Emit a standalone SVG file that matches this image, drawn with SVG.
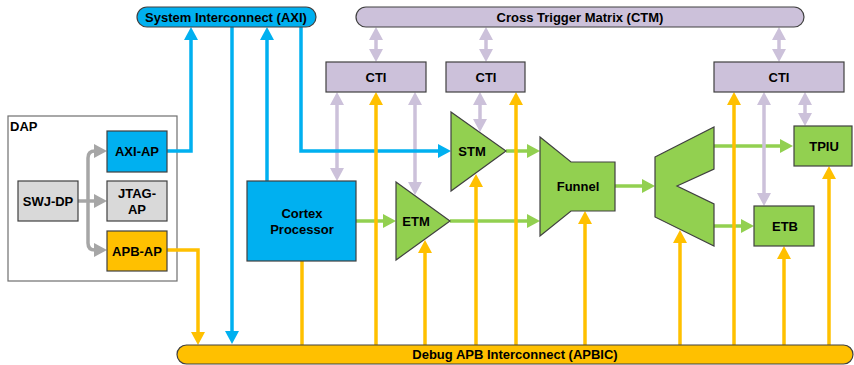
<svg xmlns="http://www.w3.org/2000/svg" width="854" height="365" viewBox="0 0 854 365">
<defs>
<style>
text{font-family:"Liberation Sans",Arial,sans-serif;font-weight:bold;font-size:13px;fill:#000;text-anchor:middle}
.n{stroke:#404040;stroke-width:1.2}
.blue{fill:#00b0f0}.yel{fill:#ffc000}.grn{fill:#92d050}.lav{fill:#ccc1da}.gry{fill:#d9d9d9}
.c{fill:none;stroke-width:3.5}
.cb{stroke:#00b0f0}.cy{stroke:#ffc000}.cg{stroke:#92d050}.cl{stroke:#ccc1da}.cgr{stroke:#a6a6a6}
</style>
<marker id="ab" markerUnits="userSpaceOnUse" markerWidth="13" markerHeight="14" refX="9" refY="7" orient="auto-start-reverse"><path d="M0,0L13,7L0,14z" fill="#00b0f0"/></marker>
<marker id="ay" markerUnits="userSpaceOnUse" markerWidth="13" markerHeight="14" refX="9" refY="7" orient="auto-start-reverse"><path d="M0,0L13,7L0,14z" fill="#ffc000"/></marker>
<marker id="ag" markerUnits="userSpaceOnUse" markerWidth="13" markerHeight="14" refX="9" refY="7" orient="auto-start-reverse"><path d="M0,0L13,7L0,14z" fill="#92d050"/></marker>
<marker id="al" markerUnits="userSpaceOnUse" markerWidth="13" markerHeight="14" refX="9" refY="7" orient="auto-start-reverse"><path d="M0,0L13,7L0,14z" fill="#ccc1da"/></marker>
<marker id="agr" markerUnits="userSpaceOnUse" markerWidth="13" markerHeight="14" refX="9" refY="7" orient="auto-start-reverse"><path d="M0,0L13,7L0,14z" fill="#a6a6a6"/></marker>
</defs>
<rect width="854" height="365" fill="#fff"/>
<g id="dap">
<rect x="8" y="116" width="169" height="165" fill="#fff" stroke="#6f6f6f" stroke-width="1.2"/>
<text x="10" y="131" style="text-anchor:start">DAP</text>
</g>
<g id="connectors">
<g class="c cg" marker-end="url(#ag)">
<path d="M356,221H392"/>
<path d="M450,221H536"/>
<path d="M506,151H536"/>
<path d="M615,186H651"/>
<path d="M714,146H789"/>
<path d="M714,226H750"/>
</g>
<g class="c cl" marker-start="url(#al)" marker-end="url(#al)">
<path d="M376,31V58"/>
<path d="M486,31V58"/>
<path d="M779,31V58"/>
<path d="M337,96V177"/>
<path d="M415,96V191"/>
<path d="M480,96V128"/>
<path d="M764,96V202"/>
<path d="M805,96V122"/>
</g>
<g class="c cgr" marker-end="url(#agr)">
<path d="M78,201H103"/>
<path d="M88,201V158Q88,151 95,151H103"/>
<path d="M88,201V243Q88,250 95,250H103"/>
</g>
<g class="c cb" marker-end="url(#ab)">
<path d="M167,151H191V31"/>
<path d="M232,27V340"/>
<path d="M267,181V31"/>
<path d="M301,27V151H447"/>
</g>
<g class="c cy" marker-end="url(#ay)">
<path d="M167,250H198V341"/>
<path d="M302,345V185"/>
<path d="M376,345V96"/>
<path d="M425,345V244"/>
<path d="M476,345V178"/>
<path d="M516,345V96"/>
<path d="M585,345V215"/>
<path d="M680,345V234"/>
<path d="M734,345V96"/>
<path d="M784,345V250"/>
<path d="M829,345V170"/>
</g>
</g>
<g id="axi"><rect class="n blue" x="137" y="7" width="179" height="20" rx="10"/><text x="226" y="22">System Interconnect (AXI)</text></g>
<g id="ctm"><rect class="n lav" x="356" y="7" width="448" height="20" rx="10"/><text x="580" y="22">Cross Trigger Matrix (CTM)</text></g>
<g id="cti1"><rect class="n lav" x="326" y="62" width="100" height="30"/><text x="376" y="82">CTI</text></g>
<g id="cti2"><rect class="n lav" x="446" y="62" width="79" height="30"/><text x="486" y="82">CTI</text></g>
<g id="cti3"><rect class="n lav" x="714" y="62" width="130" height="30"/><text x="779" y="82">CTI</text></g>
<g id="swjdp"><rect class="n gry" x="18" y="181" width="60" height="40"/><text x="48" y="206">SWJ-DP</text></g>
<g id="axiap"><rect class="n blue" x="107" y="131" width="60" height="41"/><text x="137" y="156">AXI-AP</text></g>
<g id="jtagap"><rect class="n gry" x="107" y="181" width="60" height="40"/><text x="137" y="198">JTAG-</text><text x="137" y="214">AP</text></g>
<g id="apbap"><rect class="n yel" x="107" y="231" width="60" height="40"/><text x="137" y="256">APB-AP</text></g>
<g id="cortex"><rect class="n blue" x="247" y="181" width="109" height="80"/><text x="302" y="218">Cortex</text><text x="302" y="234">Processor</text></g>
<g id="etm"><polygon class="n grn" points="396,182 450,221 396,260"/><text x="416" y="226">ETM</text></g>
<g id="stm"><polygon class="n grn" points="451,112 506,151 451,191"/><text x="472" y="156">STM</text></g>
<g id="funnel"><polygon class="n grn" points="540,137 571,162 615,162 615,211 571,211 540,236"/><text x="578" y="191">Funnel</text></g>
<g id="replicator"><polygon class="n grn" points="655,157 714,127 714,169 677,186 714,204 714,246 655,217"/></g>
<g id="tpiu"><rect class="n grn" x="794" y="126" width="58" height="40"/><text x="824" y="151">TPIU</text></g>
<g id="etb"><rect class="n grn" x="754" y="206" width="60" height="40"/><text x="785" y="231">ETB</text></g>
<g id="apbic"><rect class="n yel" x="177" y="345" width="676" height="19" rx="9.5"/><text x="515" y="359">Debug APB Interconnect (APBIC)</text></g>
</svg>
